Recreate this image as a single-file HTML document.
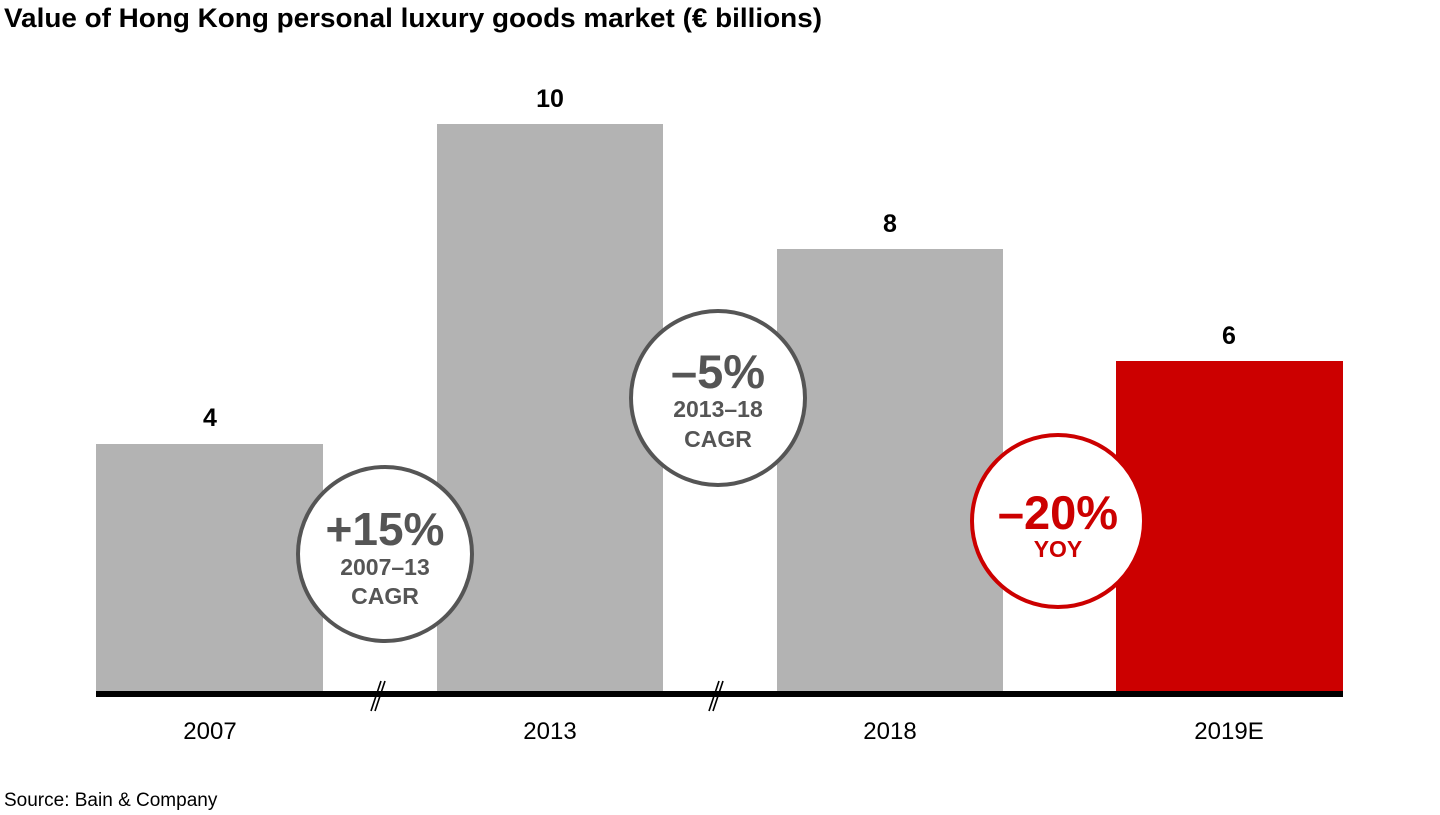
<!DOCTYPE html>
<html><head><meta charset="utf-8"><style>
html,body{margin:0;padding:0;background:#fff;}
body{width:1440px;height:810px;overflow:hidden;font-family:"Liberation Sans",Arial,sans-serif;}
</style></head><body>
<svg width="1440" height="810" xmlns="http://www.w3.org/2000/svg" font-family="Liberation Sans, Arial, sans-serif">
<text x="4" y="27" font-size="27" font-weight="bold" fill="#000" textLength="818" lengthAdjust="spacingAndGlyphs">Value of Hong Kong personal luxury goods market (€ billions)</text>
<rect x="96" y="444" width="227" height="248" fill="#b3b3b3"/>
<rect x="437" y="124" width="226" height="568" fill="#b3b3b3"/>
<rect x="777" y="249" width="226" height="443" fill="#b3b3b3"/>
<rect x="1116" y="361" width="227" height="331" fill="#cc0000"/>
<rect x="96" y="691" width="1247" height="6" fill="#000"/>
<g stroke="#000" stroke-width="1.6">
<line x1="371" y1="711" x2="381" y2="681"/><line x1="375" y1="711" x2="385" y2="681"/>
<line x1="709" y1="711" x2="719" y2="681"/><line x1="713" y1="711" x2="723" y2="681"/>
</g>
<g font-size="25" font-weight="bold" text-anchor="middle" fill="#000">
<text x="210" y="426">4</text><text x="550" y="107">10</text><text x="890" y="232">8</text><text x="1229" y="344">6</text>
</g>
<g font-size="24" text-anchor="middle" fill="#000">
<text x="210" y="739">2007</text><text x="550" y="739">2013</text><text x="890" y="739">2018</text><text x="1229" y="739">2019E</text>
</g>
<circle cx="385" cy="554" r="87" fill="#fff" stroke="#555" stroke-width="4"/>
<g text-anchor="middle" fill="#555" font-weight="bold">
<text x="385" y="545" font-size="46">+15%</text>
<text x="385" y="575" font-size="23">2007–13</text>
<text x="385" y="604" font-size="23">CAGR</text>
</g>
<circle cx="718" cy="398" r="87" fill="#fff" stroke="#555" stroke-width="4"/>
<g text-anchor="middle" fill="#555" font-weight="bold">
<text x="718" y="388" font-size="47">–5%</text>
<text x="718" y="417" font-size="23">2013–18</text>
<text x="718" y="447" font-size="23">CAGR</text>
</g>
<circle cx="1058" cy="521" r="86" fill="#fff" stroke="#cc0000" stroke-width="4"/>
<g text-anchor="middle" fill="#cc0000" font-weight="bold">
<text x="1058" y="529" font-size="47">–20%</text>
<text x="1058" y="557" font-size="23">YOY</text>
</g>
<text x="4" y="806" font-size="19" fill="#000">Source: Bain &amp; Company</text>
</svg>
</body></html>
